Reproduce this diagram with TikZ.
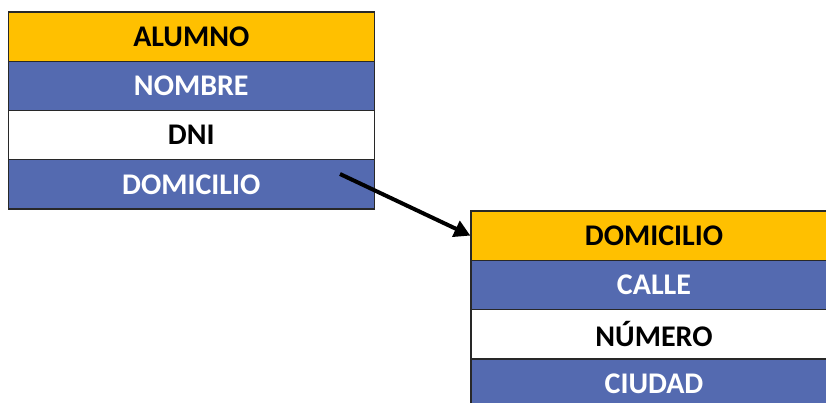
\documentclass[tikz,border=0pt]{standalone}
\usepackage{fontspec}
\setmainfont{Carlito}
\usetikzlibrary{arrows.meta}
\definecolor{hdr}{RGB}{255,192,0}
\definecolor{fld}{RGB}{84,106,176}
\definecolor{edge}{RGB}{40,40,40}
\tikzset{
  cell/.style={draw=edge, line width=1.3pt, minimum width=366pt, minimum height=49.3pt,
    inner sep=0pt, font=\fontsize{30}{30}\selectfont\bfseries, anchor=north},
  head/.style={cell, fill=hdr, text=black},
  bluecell/.style={cell, fill=fld, text=white},
  whitecell/.style={cell, fill=white, text=black},
  link/.style={line width=4pt, -{Triangle[length=16pt,width=17pt]}}
}
\begin{document}
\begin{tikzpicture}[x=1pt,y=1pt]
\useasboundingbox (0,0) rectangle (826,-403);
\clip (0,0) rectangle (826,-403);
% table ALUMNO
\node[head]      (a1) at (191.3,-11.3)  {ALUMNO};
\node[bluecell]  (a2) at (191.3,-60.6)  {NOMBRE};
\node[whitecell] (a3) at (191.3,-109.9) {DNI};
\node[bluecell]  (a4) at (191.3,-159.2) {DOMICILIO};
% table DOMICILIO
\node[head]      (d1) at (654,-210.3) {DOMICILIO};
\node[bluecell]  (d2) at (654,-259.6) {CALLE};
\node[whitecell] (d3) at (654,-308.9) {NÚMERO};
\node[bluecell]  (d4) at (654,-358.2) {CIUDAD};
% reference arrow
\coordinate (src) at (340,-174);
\draw[link] (src) -- (d1.west);
\end{tikzpicture}
\end{document}
